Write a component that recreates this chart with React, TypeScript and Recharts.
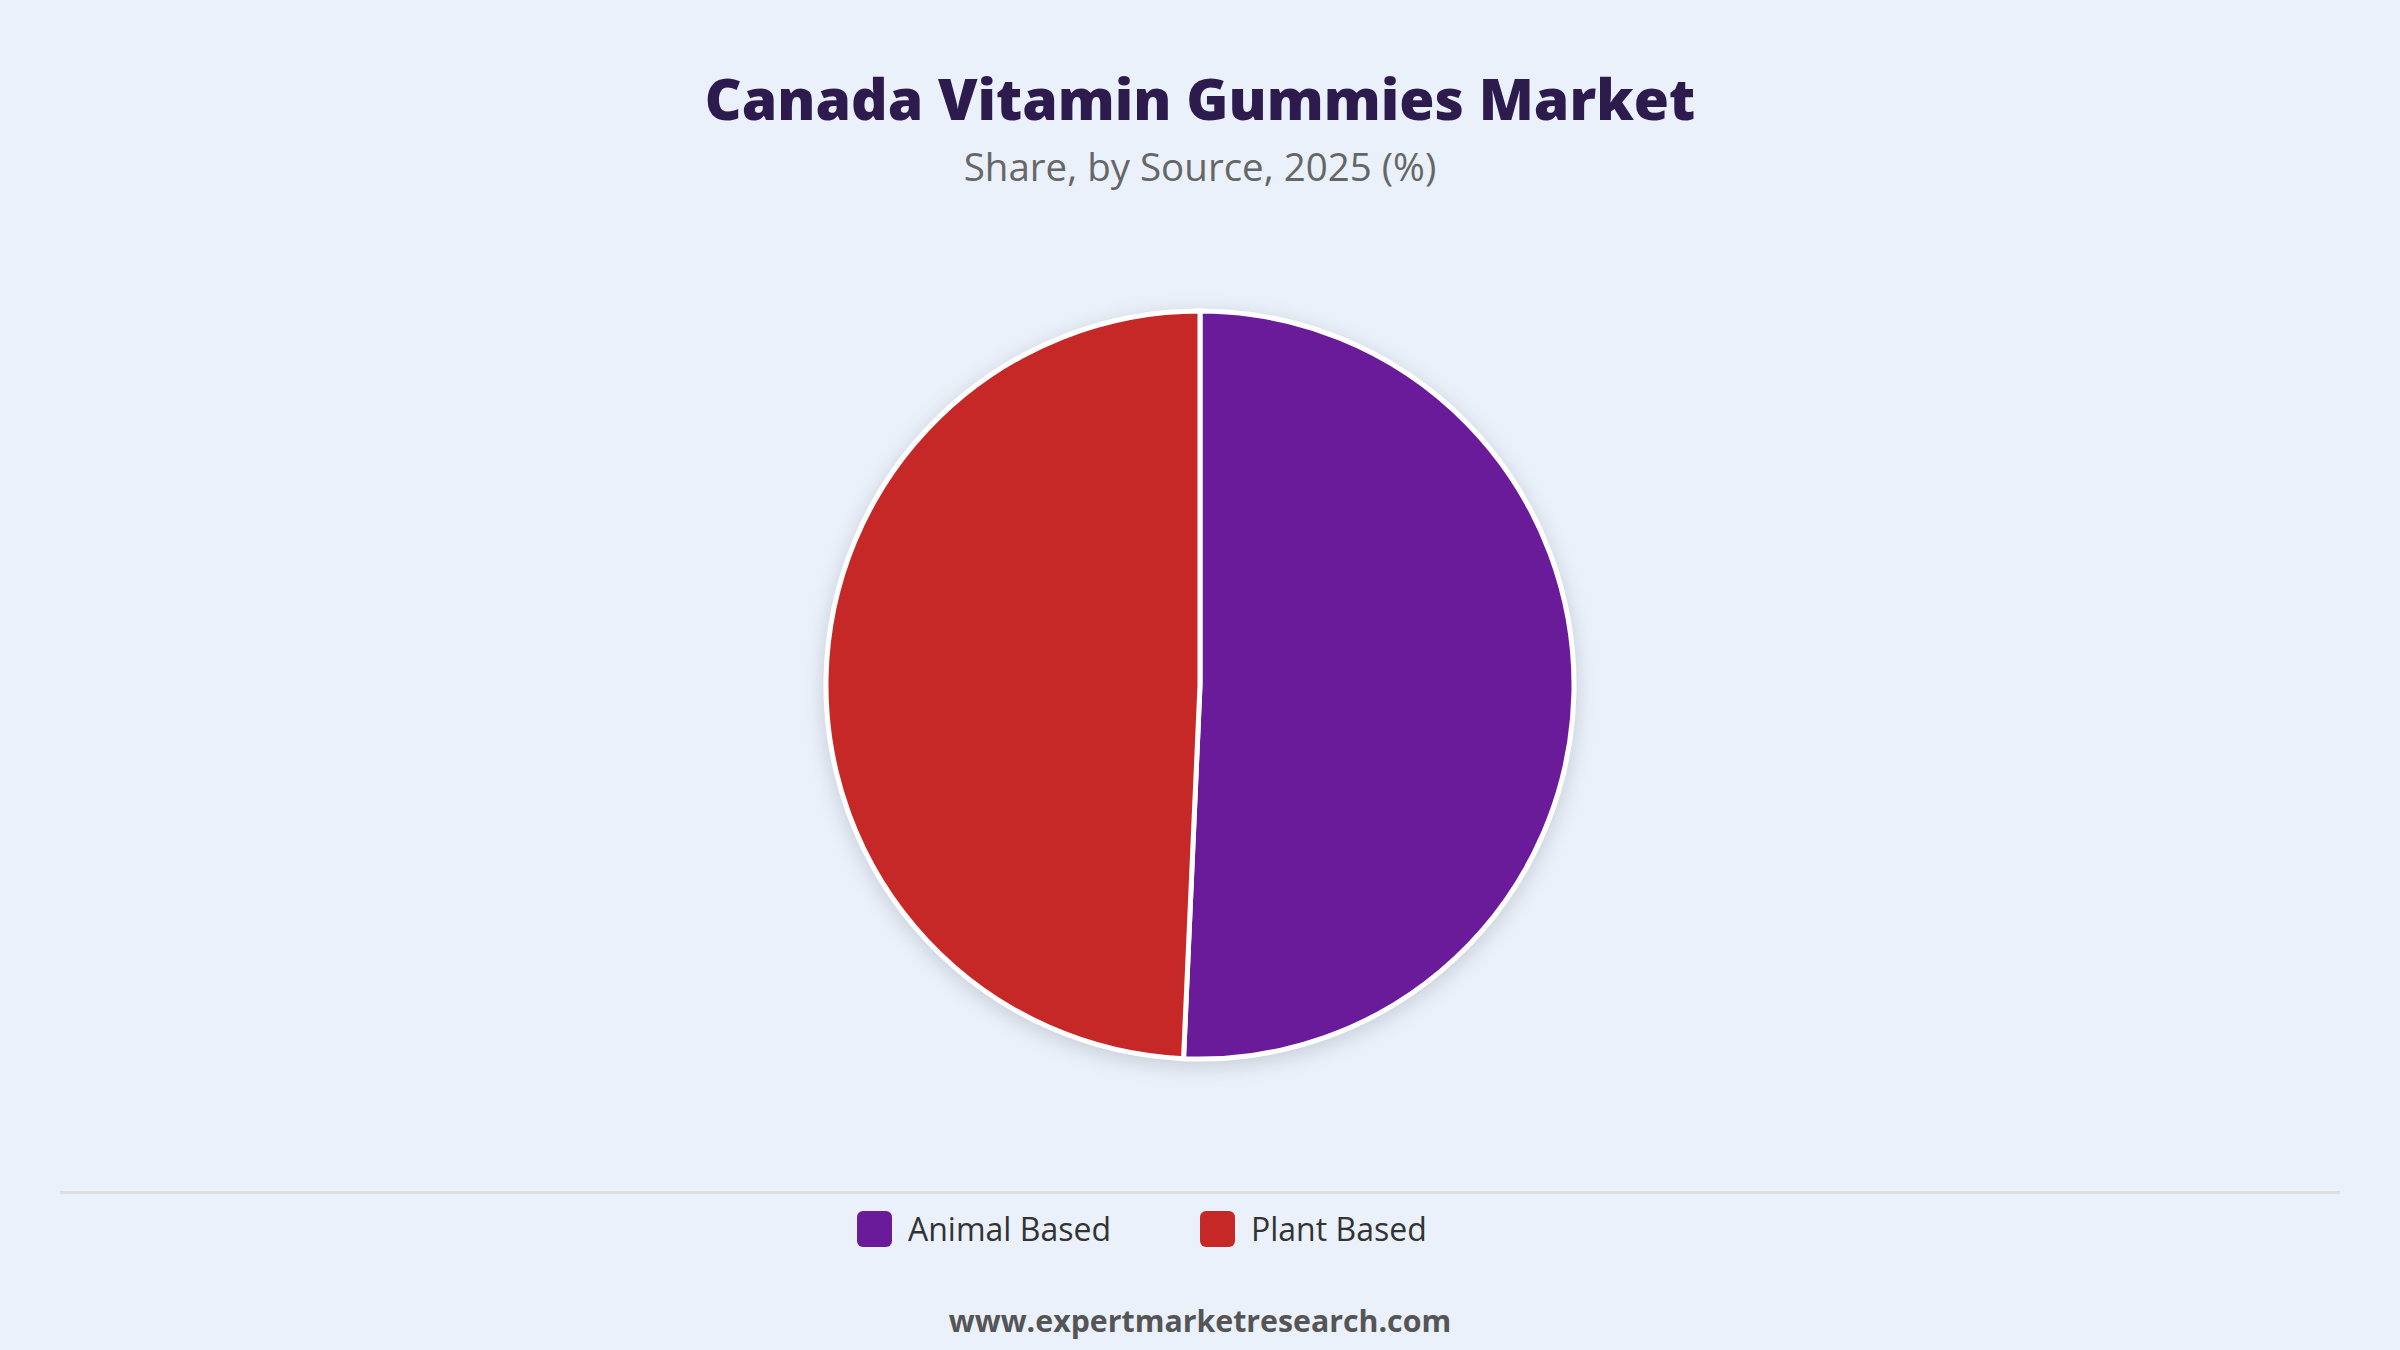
import { Cell, Legend, Pie, PieChart } from 'recharts'

const sources = ['Animal Based', 'Plant Based']
const shares = [50.7, 49.3]
const colors = ['#6a1b9a', '#c62828']

const FONT = '"Open Sans", "Noto Sans", sans-serif'

const data = sources.map((name, i) => ({ name, value: shares[i], fill: colors[i] }))

function LegendContent(props: any) {
  const items = props.payload ?? []
  return (
    <div style={{ display: 'flex', fontFamily: FONT }}>
      {items.map((item: any, i: number) => (
        <div key={item.value} style={{ display: 'flex', alignItems: 'center', width: 343 }}>
          <span
            style={{
              width: 35,
              height: 36,
              borderRadius: 6,
              background: item.color ?? colors[i],
              marginRight: 16,
            }}
          />
          <span style={{ fontSize: 32, color: '#333' }}>{item.value}</span>
        </div>
      ))}
    </div>
  )
}

export default function App() {
  return (
    <div
      style={{
        position: 'fixed',
        left: 0,
        top: 0,
        width: 2400,
        height: 1350,
        background: '#eaf1fb',
        fontFamily: FONT,
        overflow: 'hidden',
      }}
    >
      <style>{'.recharts-pie { filter: drop-shadow(0 5px 10px rgba(0,0,0,0.15)); }'}</style>
      <div
        style={{
          position: 'absolute',
          top: 58,
          width: 2400,
          textAlign: 'center',
          fontSize: 57,
          fontWeight: 800,
          color: '#2d1b4e',
          lineHeight: '80px',
        }}
      >
        Canada Vitamin Gummies Market
      </div>
      <div
        style={{
          position: 'absolute',
          top: 141,
          width: 2400,
          textAlign: 'center',
          fontSize: 38.5,
          color: '#666',
          lineHeight: '50px',
        }}
      >
        Share, by Source, 2025 (%)
      </div>

      <div style={{ position: 'absolute', left: 0, top: 0 }}>
        <PieChart width={2400} height={1350} margin={{ top: 0, right: 0, bottom: 0, left: 0 }}>
          <Pie
            data={data}
            dataKey="value"
            nameKey="name"
            cx={1200}
            cy={685}
            outerRadius={374}
            startAngle={90}
            endAngle={-270}
            stroke="#ffffff"
            strokeWidth={5}
            isAnimationActive={false}
          >
            {data.map((d) => (
              <Cell key={d.name} fill={d.fill} />
            ))}
          </Pie>
          <Legend
            content={<LegendContent />}
            wrapperStyle={{ position: 'absolute', left: 857, top: 1207, width: 'auto', bottom: 'auto' }}
          />
        </PieChart>
      </div>

      <div
        style={{
          position: 'absolute',
          left: 60,
          top: 1191,
          width: 2280,
          height: 3,
          background: '#dcdee2',
        }}
      />

      <div
        style={{
          position: 'absolute',
          top: 1296,
          width: 2400,
          textAlign: 'center',
          fontSize: 30.3,
          fontWeight: 700,
          color: '#555',
          lineHeight: '50px',
        }}
      >
        www.expertmarketresearch.com
      </div>
    </div>
  )
}
